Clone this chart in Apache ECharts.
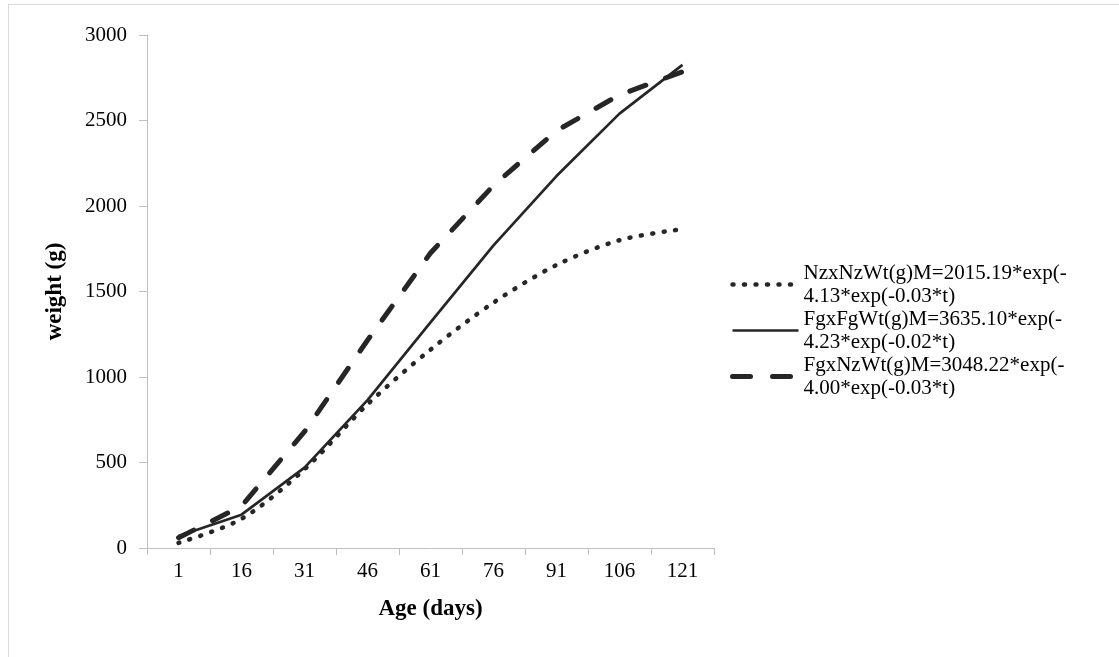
<!DOCTYPE html>
<html>
<head>
<meta charset="utf-8">
<script src="https://cdn.jsdelivr.net/npm/echarts@6/dist/echarts.min.js"></script>
<style>
  html, body { margin: 0; padding: 0; background: #fff; }
  #frame {
    position: absolute; left: 8px; top: 4px; right: -2px; bottom: -2px;
    border-left: 1px solid #d9d9d9; border-top: 1px solid #d9d9d9;
  }
  #chart { position: absolute; left: 0; top: 0; width: 1119px; height: 657px; }
</style>
</head>
<body>
<div id="frame"></div>
<div id="chart"></div>
<script>
// age (days)
const ages = ['1', '16', '31', '46', '61', '76', '91', '106', '121'];

// weight (g)
const nzxNz = [30, 170, 460, 840, 1160, 1435, 1655, 1800, 1865];
const fgxFg = [70, 195, 470, 865, 1320, 1770, 2175, 2540, 2825];
const fgxNz = [60, 245, 680, 1215, 1725, 2120, 2440, 2650, 2785];

const names = [
  'NzxNzWt(g)M=2015.19*exp(-\n4.13*exp(-0.03*t)',
  'FgxFgWt(g)M=3635.10*exp(-\n4.23*exp(-0.02*t)',
  'FgxNzWt(g)M=3048.22*exp(-\n4.00*exp(-0.03*t)'
];

const font = '"Liberation Serif", "Times New Roman", serif';
const lineColor = '#262626';

const dotStyle = { color: lineColor, width: 4.5, type: [1, 10.5], cap: 'round' };
const solidStyle = { color: lineColor, width: 2.7, type: 'solid' };
const dashStyle = { color: lineColor, width: 5, type: [17, 21], cap: 'round' };
const styles = [dotStyle, solidStyle, dashStyle];

const chart = echarts.init(document.getElementById('chart'));
chart.setOption({
  animation: false,
  textStyle: { fontFamily: font, color: '#000' },
  grid: { left: 147, right: 405, top: 35, bottom: 109, containLabel: false },
  legend: {
    orient: 'vertical',
    left: 725,
    top: 245,
    itemWidth: 66,
    itemHeight: 14,
    itemGap: -23,
    itemTextGap: 9,
    itemStyle: { opacity: 0 },
    data: names.map((n, i) => ({
      name: n,
      lineStyle: Object.assign({}, styles[i], i === 2 ? { type: [18, 22] } : {})
    })),
    textStyle: {
      fontFamily: font, fontSize: 21, color: '#000',
      lineHeight: 23, padding: [23, 0, 0, 0]
    }
  },
  xAxis: {
    type: 'category',
    data: ages,
    boundaryGap: true,
    name: 'Age (days)',
    nameLocation: 'middle',
    nameGap: 50,
    nameTextStyle: { fontFamily: font, fontSize: 23, fontWeight: 'bold', color: '#000' },
    axisLine: { lineStyle: { color: '#bfbfbf', width: 1 } },
    axisTick: { show: true, length: 7, lineStyle: { color: '#bfbfbf' } },
    axisLabel: { fontFamily: font, fontSize: 21, color: '#000', margin: 13 }
  },
  yAxis: {
    type: 'value',
    min: 0,
    max: 3000,
    interval: 500,
    name: 'weight (g)',
    nameLocation: 'middle',
    nameGap: 80,
    nameTextStyle: { fontFamily: font, fontSize: 23, fontWeight: 'bold', color: '#000' },
    axisLine: { show: true, lineStyle: { color: '#bfbfbf', width: 1 } },
    axisTick: { show: true, length: 8, lineStyle: { color: '#bfbfbf' } },
    axisLabel: { fontFamily: font, fontSize: 21, color: '#000', margin: 20, formatter: v => String(v) },
    splitLine: { show: false }
  },
  series: [
    {
      name: names[0], type: 'line', data: nzxNz, smooth: 0.3,
      symbol: 'none', color: lineColor, lineStyle: dotStyle
    },
    {
      name: names[1], type: 'line', data: fgxFg, smooth: false,
      symbol: 'none', color: lineColor, lineStyle: solidStyle
    },
    {
      name: names[2], type: 'line', data: fgxNz, smooth: false,
      symbol: 'none', color: lineColor, lineStyle: dashStyle
    }
  ]
});
</script>
</body>
</html>
